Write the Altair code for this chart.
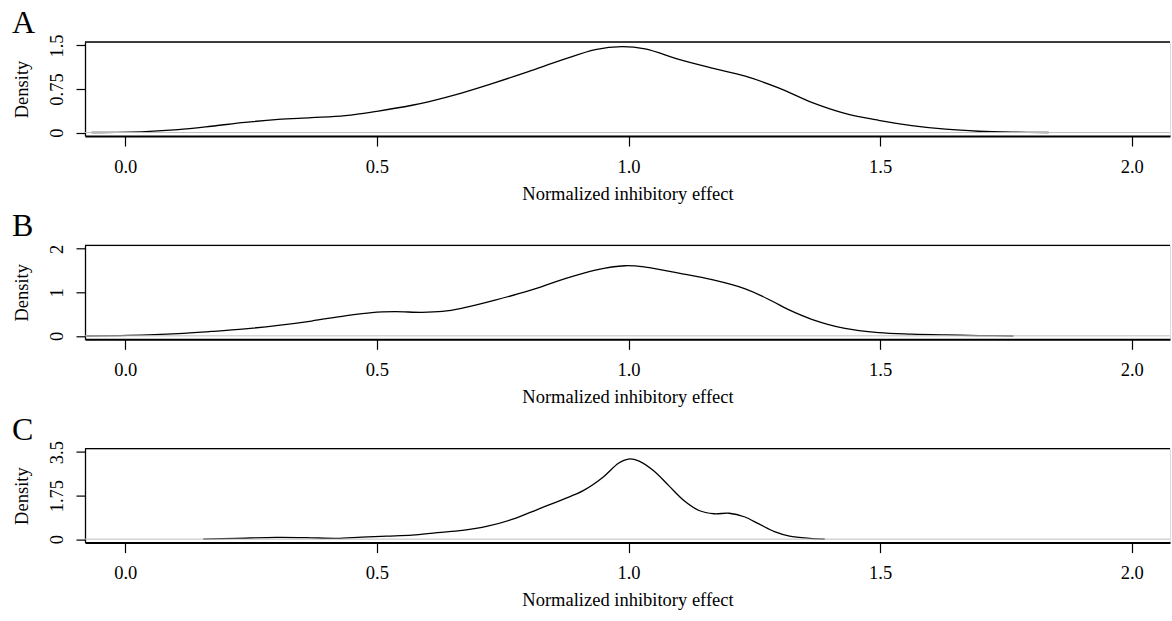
import altair as alt
import pandas as pd

FONT = "Liberation Serif"

x_ticks = [0.0, 0.5, 1.0, 1.5, 2.0]
x_title = "Normalized inhibitory effect"
y_title = "Density"

a_x = [-0.067, 0.04, 0.105, 0.171, 0.238, 0.304, 0.37, 0.437, 0.503, 0.57, 0.602, 0.668,
       0.735, 0.801, 0.868, 0.934, 0.987, 1.033, 1.1, 1.166, 1.232, 1.298, 1.364,
       1.43, 1.497, 1.563, 1.63, 1.696, 1.762, 1.835]
a_y = [0.0, 0.017, 0.05, 0.108, 0.175, 0.225, 0.255, 0.29, 0.37, 0.47, 0.53, 0.68,
       0.86, 1.05, 1.25, 1.43, 1.48, 1.44, 1.26, 1.11, 0.97, 0.77, 0.52,
       0.33, 0.21, 0.12, 0.057, 0.022, 0.006, 0.0]
a_ticks = [0, 0.75, 1.5]
a_dom = [-0.06, 1.56]

b_x = [-0.077, 0.006, 0.105, 0.171, 0.238, 0.304, 0.37, 0.437, 0.49, 0.536, 0.589, 0.63,
       0.668, 0.735, 0.801, 0.868, 0.934, 0.993, 1.033, 1.1, 1.166, 1.232, 1.285, 1.318,
       1.364, 1.43, 1.497, 1.563, 1.63, 1.696, 1.765]
b_y = [0.0, 0.01, 0.05, 0.1, 0.16, 0.24, 0.34, 0.46, 0.535, 0.555, 0.54, 0.56,
       0.63, 0.82, 1.03, 1.29, 1.51, 1.61, 1.58, 1.44, 1.29, 1.08, 0.8, 0.6,
       0.38, 0.17, 0.075, 0.04, 0.02, 0.006, 0.0]
b_ticks = [0, 1, 2]
b_dom = [-0.08, 2.08]

c_x = [0.155, 0.22, 0.3, 0.36, 0.42, 0.47, 0.52, 0.57, 0.62, 0.67, 0.72, 0.77, 0.82,
       0.87, 0.91, 0.95, 0.98, 1.0, 1.02, 1.05, 1.08, 1.11, 1.14, 1.17, 1.2, 1.23,
       1.26, 1.29, 1.32, 1.36, 1.39]
c_y = [0.0, 0.03, 0.07, 0.06, 0.03, 0.08, 0.12, 0.16, 0.26, 0.35, 0.52, 0.8, 1.2,
       1.6, 1.95, 2.5, 3.05, 3.22, 3.15, 2.75, 2.15, 1.55, 1.15, 1.02, 1.04, 0.9,
       0.6, 0.3, 0.12, 0.03, 0.0]
c_ticks = [0, 1.75, 3.5]
c_dom = [-0.14, 3.64]

W = 1085
H = 94
X_DOM = [-0.08, 2.076]
FS = 18.5


def panel(xs, ys, letter, y_ticks, y_dom):
    df = pd.DataFrame({"x": xs, "y": ys})
    xscale = alt.Scale(domain=X_DOM, nice=False, zero=False)
    yscale = alt.Scale(domain=y_dom, nice=False, zero=False)
    xaxis = alt.Axis(
        values=x_ticks, format=".1f", title=x_title, grid=False,
        domainColor="black", domainWidth=2, tickColor="black", tickWidth=1.2, tickSize=10,
        labelFont=FONT, labelFontSize=FS, labelColor="black", labelPadding=26,
        labelBaseline="alphabetic", labelFlush=False, labelOverlap=False,
        titleFont=FONT, titleFontSize=FS, titleFontWeight="normal", titleColor="black",
        titleBaseline="alphabetic", titleY=63,
    )
    yaxis = alt.Axis(
        values=y_ticks, format=".3~g", title=y_title, grid=False,
        domainColor="black", domainWidth=1.3, tickColor="black", tickWidth=1.2, tickSize=9,
        labelFont=FONT, labelFontSize=FS, labelColor="black", labelAngle=270,
        labelAlign="center", labelBaseline="alphabetic", labelPadding=13.5,
        labelFlush=False, labelOverlap=False,
        titleFont=FONT, titleFontSize=FS, titleFontWeight="normal", titleColor="black",
        titleAngle=270, titleAlign="center", titleBaseline="alphabetic",
        titleX=-58, titleY=H / 2,
    )
    line = alt.Chart(df).mark_line(
        color="black", strokeWidth=1.3, interpolate="catmull-rom"
    ).encode(
        x=alt.X("x:Q", scale=xscale, axis=xaxis),
        y=alt.Y("y:Q", scale=yscale, axis=yaxis),
    )
    zero = alt.Chart(pd.DataFrame({"y": [0]})).mark_rule(
        color="#bebebe", strokeWidth=1
    ).encode(y=alt.Y("y:Q"))
    top = alt.Chart(pd.DataFrame({"y": [0]})).mark_rule(
        color="black", strokeWidth=1.3
    ).encode(y=alt.value(0))
    lab = alt.Chart(pd.DataFrame({"t": [letter]})).mark_text(
        text=letter, font=FONT, fontSize=32, color="black",
        align="left", baseline="alphabetic"
    ).encode(x=alt.value(-73), y=alt.value(-9))
    return alt.layer(line, zero, top, lab).properties(width=W, height=H)


chart = alt.vconcat(
    panel(a_x, a_y, "A", a_ticks, a_dom),
    panel(b_x, b_y, "B", b_ticks, b_dom),
    panel(c_x, c_y, "C", c_ticks, c_dom),
    spacing=109.3,
    bounds="flush",
).properties(
    padding={"left": 11, "top": 6, "right": 0, "bottom": 0}
).configure_view(stroke=None).configure(background="white")

chart.save("out.html", embed_options={"renderer": "svg", "actions": False})
